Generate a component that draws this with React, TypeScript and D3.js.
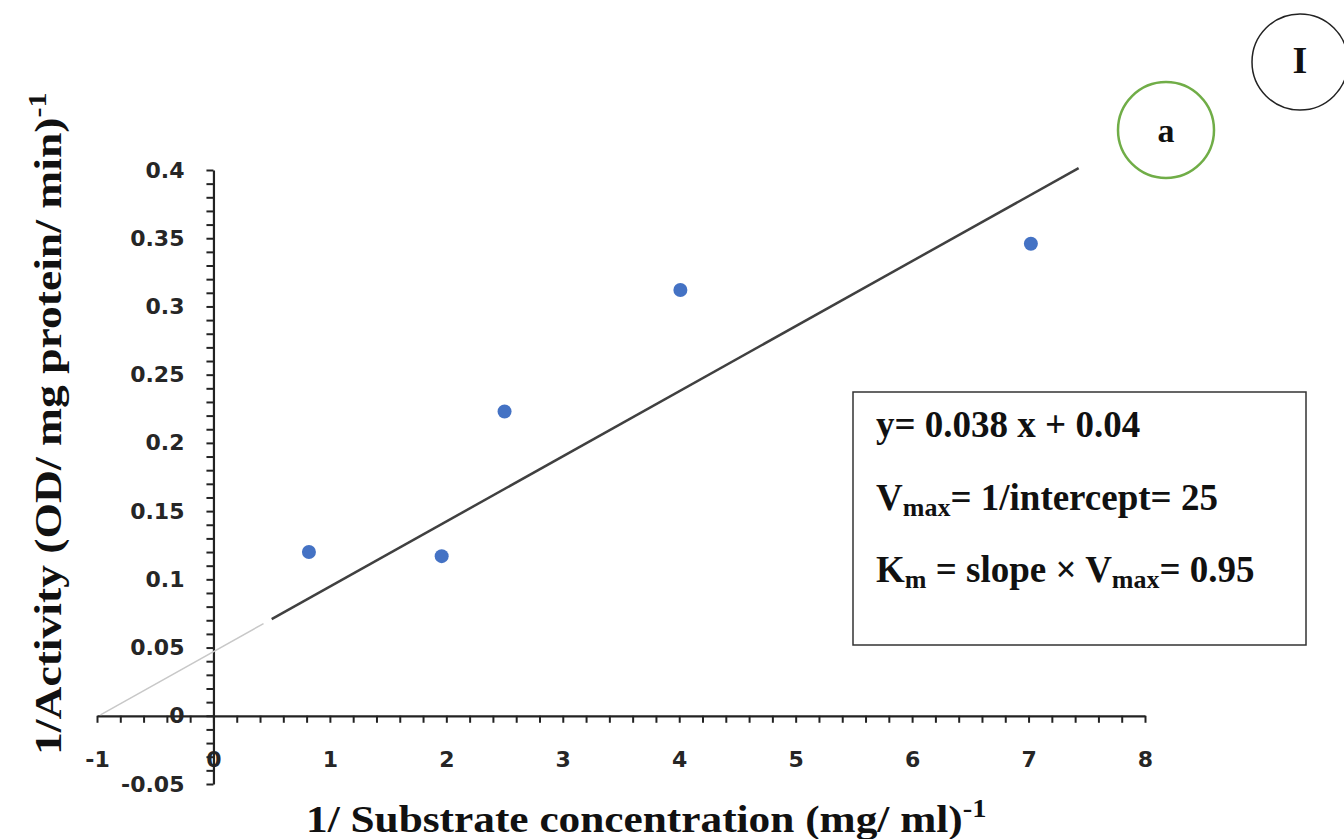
import React, { useRef, useEffect } from 'react';
import * as d3 from 'd3';

// data
const xValues = [0.82, 1.96, 2.5, 4.01, 7.02];
const yValues = [0.12, 0.117, 0.223, 0.312, 0.346];

const xTicks = [-1, 0, 1, 2, 3, 4, 5, 6, 7, 8];
const yTicks = [-0.05, 0, 0.05, 0.1, 0.15, 0.2, 0.25, 0.3, 0.35, 0.4];

// trend line as drawn: dark part and the faint backward extension
const trendSlope = 0.0477;
const trendIntercept = 0.047;
const trendSolid = [0.5, 7.43];
const trendBack = [-0.97, 0.43];

const xTitle = '1/ Substrate concentration (mg/ ml)';
const yTitle = '1/Activity (OD/ mg protein/ min)';

const W = 1344;
const H = 839;

const App = () => {
  const svgRef = useRef<SVGSVGElement>(null);

  useEffect(() => {
    const svg = d3.select(svgRef.current);
    svg.selectAll('*').remove();

    const x = d3.scaleLinear().domain([-1, 8]).range([97, 1145]);
    const y = d3.scaleLinear().domain([-0.05, 0.4]).range([784, 170]);

    const tickFont = "'DejaVu Sans', sans-serif";
    const serif = "'Liberation Serif', 'Times New Roman', serif";

    // x axis - minor ticks
    const xMinor = d3.range(-1, 8.001, 0.2).map(v => +v.toFixed(1));
    svg.append('g')
      .attr('transform', `translate(0,${y(0)})`)
      .call(d3.axisBottom(x).tickValues(xMinor).tickSize(7).tickFormat(() => '').tickSizeOuter(0))
      .call(g => g.select('.domain').attr('stroke', '#222').attr('stroke-width', 2.2))
      .call(g => g.selectAll('.tick line').attr('stroke', '#222').attr('stroke-width', 2));

    const xAx = svg.append('g')
      .attr('transform', `translate(0,${y(0)})`)
      .call(d3.axisBottom(x).tickValues(xTicks).tickSize(0).tickPadding(36).tickFormat(d => String(d)));
    xAx.select('.domain').remove();
    xAx.selectAll('text')
      .attr('font-family', tickFont).attr('font-weight', 700).attr('font-size', 22).attr('fill', '#262626');

    // y axis
    const yMinor = d3.range(-0.05, 0.4001, 0.01).map(v => +v.toFixed(2));
    svg.append('g')
      .attr('transform', `translate(${x(0)},0)`)
      .call(d3.axisLeft(y).tickValues(yMinor).tickSize(7).tickFormat(() => '').tickSizeOuter(0))
      .call(g => g.select('.domain').attr('stroke', '#222').attr('stroke-width', 2.2))
      .call(g => g.selectAll('.tick line').attr('stroke', '#222').attr('stroke-width', 2));

    const yAx = svg.append('g')
      .attr('transform', `translate(${x(0)},0)`)
      .call(d3.axisLeft(y).tickValues(yTicks).tickSize(0).tickPadding(29)
        .tickFormat(d => String(+(+d).toFixed(2))));
    yAx.select('.domain').remove();
    yAx.selectAll('text')
      .attr('font-family', tickFont).attr('font-weight', 700).attr('font-size', 22).attr('fill', '#262626');

    // trend line
    const line = d3.line<number>().x(d => x(d)).y(d => y(trendSlope * d + trendIntercept));
    svg.append('path').datum(trendBack).attr('d', line)
      .attr('fill', 'none').attr('stroke', '#c8c8c8').attr('stroke-width', 1.5);
    svg.append('path').datum(trendSolid).attr('d', line)
      .attr('fill', 'none').attr('stroke', '#404040').attr('stroke-width', 2.5);

    // points
    svg.selectAll('.dot')
      .data(xValues.map((v, i) => [v, yValues[i]]))
      .join('circle')
      .attr('class', 'dot')
      .attr('cx', d => x(d[0]))
      .attr('cy', d => y(d[1]))
      .attr('r', 7)
      .attr('fill', '#4472c4');

    // axis titles (glyphs stretched along the text direction like the source)
    const yt = svg.append('text')
      .attr('transform', 'translate(61,755) rotate(-90) scale(1.2,1)')
      .attr('font-family', serif).attr('font-weight', 700).attr('font-size', 38).attr('fill', '#111');
    yt.append('tspan').text(yTitle);
    yt.append('tspan').attr('dy', -15).attr('font-size', 25).text('-1');

    const xt = svg.append('text')
      .attr('transform', 'translate(306,832) scale(1.14,1)')
      .attr('font-family', serif).attr('font-weight', 700).attr('font-size', 38).attr('fill', '#111');
    xt.append('tspan').text(xTitle);
    xt.append('tspan').attr('dy', -15).attr('font-size', 25).text('-1');

    // equation box
    svg.append('rect').attr('x', 853).attr('y', 392).attr('width', 453).attr('height', 253)
      .attr('fill', 'white').attr('stroke', '#333').attr('stroke-width', 1.5);
    const bt = (yy: number) => svg.append('text').attr('x', 876).attr('y', yy)
      .attr('font-family', serif).attr('font-weight', 700).attr('font-size', 37).attr('fill', '#111');
    bt(437).text('y= 0.038 x + 0.04');
    const l2 = bt(510);
    l2.append('tspan').text('V');
    l2.append('tspan').attr('font-size', 26).attr('dy', 6).text('max');
    l2.append('tspan').attr('dy', -6).text('= 1/intercept= 25');
    const l3 = bt(582);
    l3.append('tspan').text('K');
    l3.append('tspan').attr('font-size', 26).attr('dy', 6).text('m');
    l3.append('tspan').attr('dy', -6).text(' = slope × V');
    l3.append('tspan').attr('font-size', 26).attr('dy', 6).text('max');
    l3.append('tspan').attr('dy', -6).text('= 0.95');

    // panel labels
    svg.append('circle').attr('cx', 1166).attr('cy', 130).attr('r', 48)
      .attr('fill', 'none').attr('stroke', '#70ad47').attr('stroke-width', 2.5);
    svg.append('text').attr('x', 1166).attr('y', 142).attr('text-anchor', 'middle')
      .attr('font-family', serif).attr('font-weight', 700).attr('font-size', 34).attr('fill', '#111').text('a');
    svg.append('circle').attr('cx', 1300).attr('cy', 62).attr('r', 48)
      .attr('fill', 'none').attr('stroke', '#222').attr('stroke-width', 1.5);
    svg.append('text').attr('x', 1300).attr('y', 73).attr('text-anchor', 'middle')
      .attr('font-family', serif).attr('font-weight', 700).attr('font-size', 38).attr('fill', '#111').text('I');
  }, []);

  return (
    <svg ref={svgRef} width={W} height={H}
      style={{ position: 'absolute', left: 0, top: 0, background: 'white', display: 'block' }} />
  );
};

export default App;
